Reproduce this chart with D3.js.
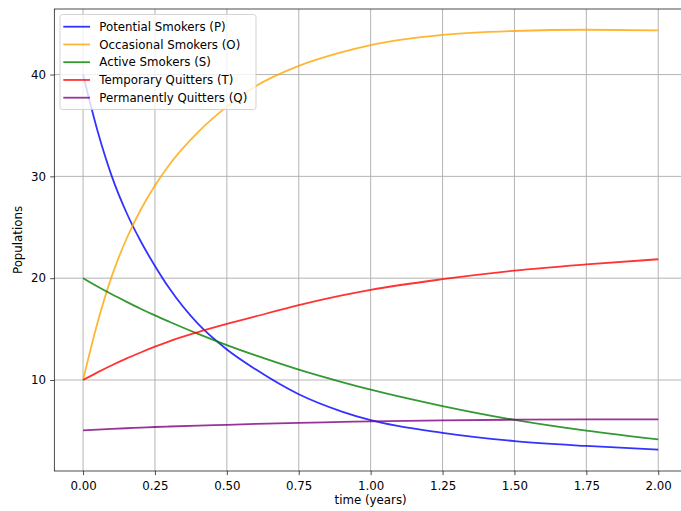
<!DOCTYPE html>
<html>
<head>
<meta charset="utf-8">
<script src="https://cdn.jsdelivr.net/npm/d3@7"></script>
<style>
  body { margin: 0; background: #fff; }
  svg { display: block; font-family: "DejaVu Sans", sans-serif; }
</style>
</head>
<body>
<div id="chart"></div>
<script>
//chart values
const time = [0, 0.05, 0.1, 0.15, 0.2, 0.25, 0.3, 0.4, 0.5, 0.6, 0.75, 0.9, 1.0, 1.25, 1.5, 1.75, 2.0];
const potential = [40, 34.5, 30.0, 26.5, 23.65, 21.2, 19.0, 15.5, 13.0, 11.05, 8.6, 6.9, 6.05, 4.8, 4.0, 3.52, 3.15];
const occasional = [10, 15.6, 20.2, 23.8, 26.7, 29.1, 31.15, 34.35, 36.85, 38.85, 40.85, 42.2, 42.9, 43.9, 44.28, 44.4, 44.35];
const active = [20, 19.18, 18.42, 17.7, 17.0, 16.34, 15.72, 14.53, 13.43, 12.41, 11.02, 9.8, 9.05, 7.44, 6.08, 5.02, 4.16];
const temporary = [10, 10.75, 11.45, 12.1, 12.7, 13.27, 13.8, 14.7, 15.5, 16.25, 17.35, 18.3, 18.85, 19.9, 20.74, 21.35, 21.86];
const permanent = [5.05, 5.13, 5.2, 5.26, 5.32, 5.38, 5.43, 5.52, 5.6, 5.68, 5.79, 5.88, 5.94, 6.04, 6.1, 6.13, 6.14];

const seriesNames = ["Potential Smokers (P)", "Occasional Smokers (O)", "Active Smokers (S)", "Temporary Quitters (T)", "Permanently Quitters (Q)"];
const seriesColors = ["blue", "orange", "green", "red", "purple"];
const xTicks = [0, 0.25, 0.5, 0.75, 1.0, 1.25, 1.5, 1.75, 2.0];
const yTicks = [10, 20, 30, 40];

const width = 681;
const height = 511;
const plotLeft = 54.3, plotTop = 9, plotRight = 687, plotBottom = 471;
const fontSize = 11.8;

const svg = d3.select("#chart")
  .append("svg")
  .attr("width", width)
  .attr("height", height);

const x = d3.scaleLinear().domain([-0.1, 2.1]).range([plotLeft, plotRight]);
const y = d3.scaleLinear().domain([1.06, 46.44]).range([plotBottom, plotTop]);

svg.append("defs").append("clipPath").attr("id", "plot")
  .append("rect")
  .attr("x", plotLeft).attr("y", plotTop)
  .attr("width", plotRight - plotLeft).attr("height", plotBottom - plotTop);

//grid
const grid = svg.append("g").attr("stroke", "#b0b0b0").attr("stroke-width", 0.95);
xTicks.forEach(t => {
  grid.append("line").attr("x1", x(t)).attr("x2", x(t)).attr("y1", plotTop).attr("y2", plotBottom);
});
yTicks.forEach(t => {
  grid.append("line").attr("x1", plotLeft).attr("x2", plotRight).attr("y1", y(t)).attr("y2", y(t));
});

//lines
const allSeries = [potential, occasional, active, temporary, permanent];
const line = d3.line()
  .x((d, i) => x(time[i]))
  .y(d => y(d))
  .curve(d3.curveMonotoneX);

const lines = svg.append("g").attr("clip-path", "url(#plot)");
allSeries.forEach((s, i) => {
  lines.append("path")
    .datum(s)
    .attr("d", line)
    .attr("fill", "none")
    .attr("stroke", seriesColors[i])
    .attr("stroke-opacity", 0.8)
    .attr("stroke-width", 1.8);
});

//axes
const xAxis = svg.append("g")
  .attr("transform", `translate(0,${plotBottom})`)
  .call(d3.axisBottom(x).tickValues(xTicks).tickFormat(d3.format(".2f")).tickSize(4.1).tickPadding(7).tickSizeOuter(0));
const yAxis = svg.append("g")
  .attr("transform", `translate(${plotLeft},0)`)
  .call(d3.axisLeft(y).tickValues(yTicks).tickSize(4.1).tickPadding(4.1).tickSizeOuter(0));

[xAxis, yAxis].forEach(a => {
  a.select(".domain").remove();
  a.selectAll("line").attr("stroke", "#000").attr("stroke-width", 0.7);
  a.selectAll("text").attr("font-size", fontSize).attr("fill", "#000")
    .attr("font-family", "DejaVu Sans, sans-serif");
});

//spines
svg.append("rect")
  .attr("x", plotLeft).attr("y", plotTop)
  .attr("width", plotRight - plotLeft).attr("height", plotBottom - plotTop)
  .attr("fill", "none")
  .attr("stroke", "#000")
  .attr("stroke-width", 0.7);

//axis labels
svg.append("text")
  .attr("x", (plotLeft + plotRight) / 2)
  .attr("y", 504)
  .attr("text-anchor", "middle")
  .attr("font-size", fontSize)
  .text("time (years)");

svg.append("text")
  .attr("transform", `translate(22,${(plotTop + plotBottom) / 2}) rotate(-90)`)
  .attr("text-anchor", "middle")
  .attr("font-size", fontSize)
  .text("Populations");

//legend
const legend = svg.append("g");
legend.append("rect")
  .attr("x", 60).attr("y", 14.5)
  .attr("width", 196).attr("height", 95)
  .attr("rx", 2.5)
  .attr("fill", "#fff")
  .attr("fill-opacity", 0.8)
  .attr("stroke", "#cccccc")
  .attr("stroke-width", 0.85);

seriesNames.forEach((name, i) => {
  const cy = 26.7 + i * 17.75;
  legend.append("line")
    .attr("x1", 63.3).attr("x2", 90)
    .attr("y1", cy).attr("y2", cy)
    .attr("stroke", seriesColors[i])
    .attr("stroke-opacity", 0.8)
    .attr("stroke-width", 1.8);
  legend.append("text")
    .attr("x", 99.3)
    .attr("y", cy)
    .attr("dy", "0.36em")
    .attr("font-size", fontSize)
    .text(name);
});
</script>
</body>
</html>
